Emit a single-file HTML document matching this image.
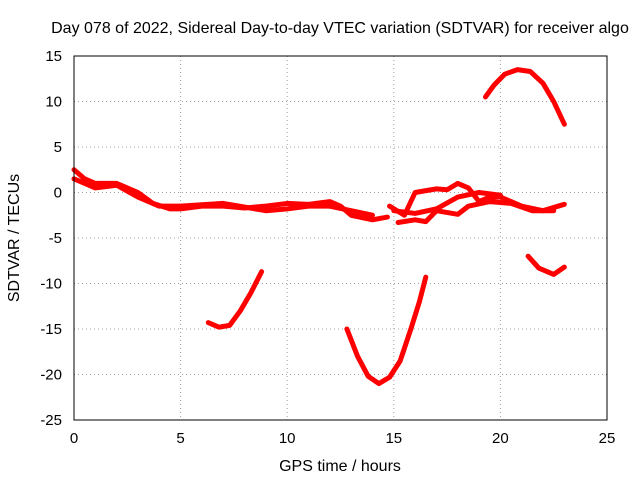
<!DOCTYPE html>
<html><head><meta charset="utf-8"><style>
body{margin:0;background:#fff}
svg{display:block;font-family:"Liberation Sans",sans-serif}
</style></head><body>
<svg id="chart" width="640" height="480">
<rect x="0" y="0" width="640" height="480" fill="#fff"/>
<g id="grid"></g>
<g id="series"></g>
<rect x="74" y="56" width="533" height="364" fill="none" stroke="#000" stroke-width="1"/>
<g id="ticks"></g>
<text x="340" y="33" text-anchor="middle" font-size="16">Day 078 of 2022, Sidereal Day-to-day VTEC variation (SDTVAR) for receiver algo</text>
<text x="340" y="471" text-anchor="middle" font-size="16">GPS time / hours</text>
<text transform="translate(19,238) rotate(-90)" text-anchor="middle" font-size="16">SDTVAR / TECUs</text>
</svg>
<script>
const xTicks=[0,5,10,15,20,25];
const yTicks=[15,10,5,0,-5,-10,-15,-20,-25];
const mainA=[[0,2.5],[0.5,1.5],[1,1],[2,1],[3,0],[3.7,-1.2],[4.5,-1.8],[5,-1.8],[6,-1.5],[7,-1.5],[8,-1.7],[9,-1.5],[10,-1.2],[11,-1.3],[12,-1.0],[12.5,-1.5],[13,-2.5],[14,-3],[14.7,-2.7]];
const mainB=[[0,1.5],[1,0.5],[2,0.8],[3,-0.5],[4,-1.5],[5,-1.5],[7,-1.2],[9,-2],[10,-1.8],[11,-1.5],[12,-1.5],[13,-2],[14,-2.5]];
const midA=[[14.8,-1.5],[15.5,-2.5],[16,0],[17,0.4],[17.5,0.3],[18,1],[18.5,0.5],[19,-1],[19.5,-0.5],[20,-0.5],[20.5,-1],[21,-1.5],[22,-2],[23,-1.3]];
const midB=[[15.2,-3.3],[16,-3],[16.5,-3.2],[17,-2],[18,-2.4],[18.5,-1.5],[19.5,-1],[20.5,-1.2],[21.5,-2],[22.5,-2]];
const midC=[[15,-2],[16,-2.3],[17,-1.8],[18,-0.5],[19,0],[20,-0.3]];
const arcTop=[[19.3,10.5],[19.7,11.8],[20.2,13],[20.8,13.5],[21.4,13.3],[22,12],[22.5,10],[23,7.5]];
const dipA=[[6.3,-14.3],[6.8,-14.8],[7.3,-14.6],[7.8,-13],[8.3,-11],[8.8,-8.7]];
const dipB=[[12.8,-15],[13.3,-18],[13.8,-20.2],[14.3,-21],[14.8,-20.3],[15.3,-18.5],[15.8,-15],[16.2,-12],[16.5,-9.3]];
const dipC=[[21.3,-7],[21.8,-8.3],[22.5,-9],[23,-8.2]];
const allSeries=[mainA,mainB,midA,midB,midC,arcTop,dipA,dipB,dipC];
const NS="http://www.w3.org/2000/svg";
const X=v=>74+v*533/25, Y=v=>56+(15-v)*364/40;
const grid=document.getElementById('grid'), ticks=document.getElementById('ticks'), ser=document.getElementById('series');
function mk(tag,attrs,parent){const e=document.createElementNS(NS,tag);for(const k in attrs)e.setAttribute(k,attrs[k]);parent.appendChild(e);return e;}
xTicks.forEach(t=>{
 const l=mk('line',{x1:X(t),x2:X(t),y1:56,y2:420,stroke:'#a0a0a0','stroke-dasharray':'1,3'},grid);
 
 
 const tx=mk('text',{x:X(t),y:443,'text-anchor':'middle','font-size':15},ticks);
 tx.textContent=t;
 
 
});
yTicks.forEach(t=>{
 const l=mk('line',{x1:74,x2:607,y1:Y(t),y2:Y(t),stroke:'#a0a0a0','stroke-dasharray':'1,3'},grid);
 
 
 const tx=mk('text',{x:62,y:Y(t)+5,'text-anchor':'end','font-size':15},ticks);
 tx.textContent=t;
 
 
});
allSeries.forEach(s=>{
 const p=mk('polyline',{points:s.map(d=>X(d[0])+','+Y(d[1])).join(' '),fill:'none',stroke:'#f00','stroke-width':5,'stroke-linejoin':'round','stroke-linecap':'round'},ser);
 
 
});
</script>
</body></html>
